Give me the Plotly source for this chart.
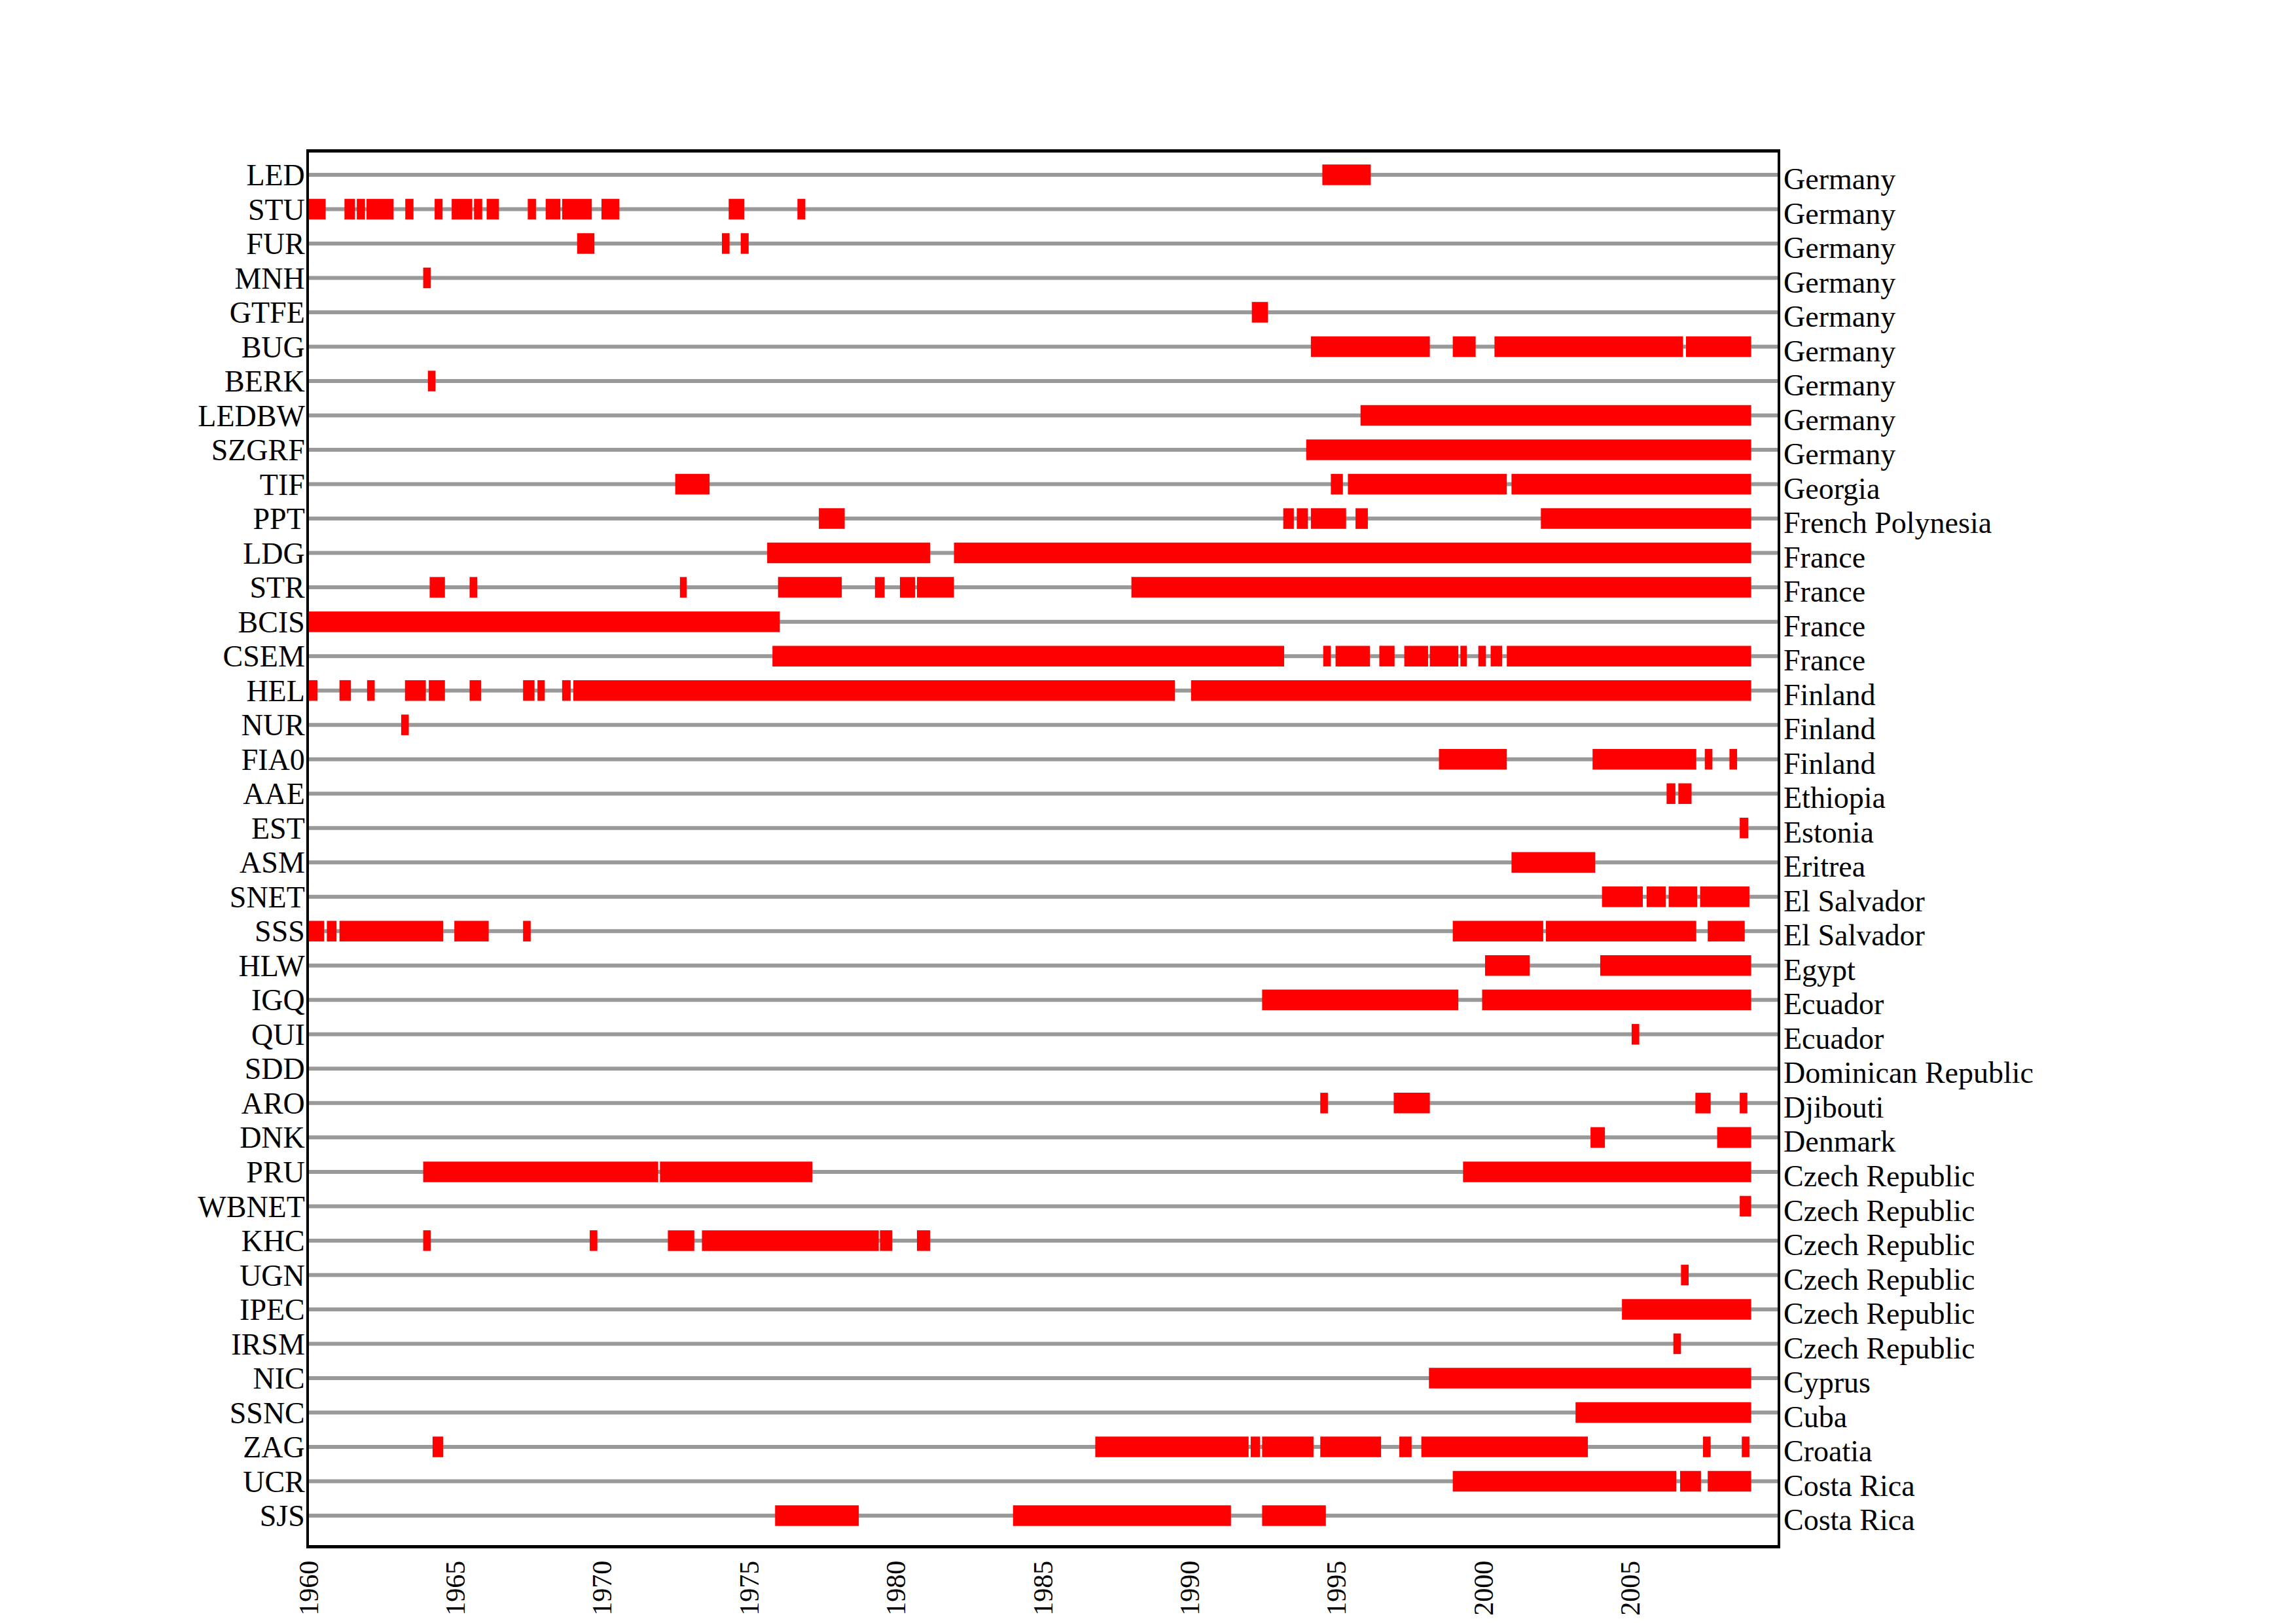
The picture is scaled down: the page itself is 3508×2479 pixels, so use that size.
import plotly.graph_objects as go

stations = ["LED", "STU", "FUR", "MNH", "GTFE", "BUG", "BERK", "LEDBW", "SZGRF", "TIF",
            "PPT", "LDG", "STR", "BCIS", "CSEM", "HEL", "NUR", "FIA0", "AAE", "EST",
            "ASM", "SNET", "SSS", "HLW", "IGQ", "QUI", "SDD", "ARO", "DNK", "PRU",
            "WBNET", "KHC", "UGN", "IPEC", "IRSM", "NIC", "SSNC", "ZAG", "UCR", "SJS"]

countries = ["Germany", "Germany", "Germany", "Germany", "Germany", "Germany", "Germany",
             "Germany", "Germany", "Georgia", "French Polynesia", "France", "France",
             "France", "France", "Finland", "Finland", "Finland", "Ethiopia", "Estonia",
             "Eritrea", "El Salvador", "El Salvador", "Egypt", "Ecuador", "Ecuador",
             "Dominican Republic", "Djibouti", "Denmark", "Czech Republic",
             "Czech Republic", "Czech Republic", "Czech Republic", "Czech Republic",
             "Czech Republic", "Cyprus", "Cuba", "Croatia", "Costa Rica", "Costa Rica"]

# operating periods (start year, end year), one list per station, in the order above
periods = [
    [(1994.5, 1996.15)],
    [(1960.0, 1960.57), (1961.21, 1961.57), (1961.63, 1961.91), (1961.96, 1962.88),
     (1963.28, 1963.56), (1964.28, 1964.55), (1964.86, 1965.56), (1965.62, 1965.9),
     (1966.05, 1966.47), (1967.45, 1967.73), (1968.06, 1968.56), (1968.62, 1969.63),
     (1969.96, 1970.57), (1974.29, 1974.82), (1976.63, 1976.9)],
    [(1969.13, 1969.72), (1974.06, 1974.32), (1974.7, 1974.97)],
    [(1963.89, 1964.15)],
    [(1992.1, 1992.65)],
    [(1994.11, 1998.16), (1998.94, 1999.72), (2000.36, 2006.78), (2006.88, 2009.1)],
    [(1964.05, 1964.31)],
    [(1995.8, 2009.1)],
    [(1993.95, 2009.1)],
    [(1972.47, 1973.64), (1994.79, 1995.2), (1995.37, 2000.78), (2000.94, 2009.1)],
    [(1977.36, 1978.24), (1993.17, 1993.53), (1993.63, 1994.01), (1994.11, 1995.31),
     (1995.63, 1996.05), (2001.94, 2009.1)],
    [(1975.6, 1981.15), (1981.96, 2009.1)],
    [(1964.11, 1964.63), (1965.47, 1965.73), (1972.63, 1972.86), (1975.97, 1978.14),
     (1979.27, 1979.6), (1980.12, 1980.64), (1980.7, 1981.96), (1988.0, 2009.1)],
    [(1960.0, 1976.03)],
    [(1975.78, 1993.2), (1994.53, 1994.79), (1994.95, 1996.12), (1996.44, 1996.96),
     (1997.29, 1998.1), (1998.16, 1999.13), (1999.2, 1999.42), (1999.81, 2000.07),
     (2000.23, 2000.62), (2000.78, 2009.1)],
    [(1960.0, 1960.29), (1961.04, 1961.43), (1961.98, 1962.24), (1963.27, 1963.98),
     (1964.08, 1964.63), (1965.47, 1965.86), (1967.29, 1967.68), (1967.78, 1968.03),
     (1968.62, 1968.91), (1969.0, 1989.48), (1990.03, 2009.1)],
    [(1963.14, 1963.4)],
    [(1998.47, 2000.78), (2003.7, 2007.23), (2007.52, 2007.78), (2008.36, 2008.62)],
    [(2006.22, 2006.52), (2006.62, 2007.07)],
    [(2008.71, 2009.0)],
    [(2000.94, 2003.79)],
    [(2004.02, 2005.41), (2005.54, 2006.19), (2006.29, 2007.26), (2007.36, 2009.04)],
    [(1960.0, 1960.52), (1960.61, 1960.94), (1961.04, 1964.57), (1964.95, 1966.12),
     (1967.29, 1967.55), (1998.94, 2002.02), (2002.11, 2007.23), (2007.62, 2008.88)],
    [(2000.04, 2001.56), (2003.96, 2009.1)],
    [(1992.45, 1999.13), (1999.94, 2009.1)],
    [(2005.03, 2005.29)],
    [],
    [(1994.43, 1994.69), (1996.93, 1998.16), (2007.2, 2007.72), (2008.71, 2008.97)],
    [(2003.63, 2004.12), (2007.94, 2009.1)],
    [(1963.89, 1971.89), (1971.95, 1977.14), (1999.29, 2009.1)],
    [(2008.71, 2009.1)],
    [(1963.89, 1964.15), (1969.56, 1969.82), (1972.22, 1973.12), (1973.38, 1979.4),
     (1979.44, 1979.86), (1980.7, 1981.15)],
    [(2006.71, 2006.97)],
    [(2004.7, 2009.1)],
    [(2006.45, 2006.71)],
    [(1998.13, 2009.1)],
    [(2003.12, 2009.1)],
    [(1964.21, 1964.57), (1986.77, 1991.99), (1992.06, 1992.38), (1992.45, 1994.2),
     (1994.43, 1996.5), (1997.12, 1997.54), (1997.87, 2003.54), (2007.46, 2007.72),
     (2008.78, 2009.04)],
    [(1998.94, 2006.55), (2006.68, 2007.39), (2007.62, 2009.1)],
    [(1975.87, 1978.72), (1983.97, 1991.39), (1992.45, 1994.62)],
]

year_ticks = [1960, 1965, 1970, 1975, 1980, 1985, 1990, 1995, 2000, 2005]
x_range = [1960, 2010]

n = len(stations)
row_pos = [n - 1 - i for i in range(n)]
y_range = [-0.856, n - 1 + 0.646]

FONT = "Liberation Serif, Times New Roman, serif"

fig = go.Figure()

# grey baseline for every station
lx, ly = [], []
for p in row_pos:
    lx += [x_range[0], x_range[1], None]
    ly += [p, p, None]
fig.add_trace(go.Scatter(x=lx, y=ly, mode="lines",
                         line=dict(color="#999999", width=6),
                         hoverinfo="skip", showlegend=False, yaxis="y"))

# red operating periods
by, bbase, blen = [], [], []
for p, segs in zip(row_pos, periods):
    for s, e in segs:
        by.append(p)
        bbase.append(s)
        blen.append(e - s)
fig.add_trace(go.Bar(x=blen, base=bbase, y=by, orientation="h", width=0.6,
                     marker=dict(color="#ff0000", line=dict(width=0)),
                     showlegend=False, yaxis="y2"))

# the page body adds an 8 px offset, so the figure is sized to fit inside it
fig.update_layout(
    width=3492, height=2463,
    margin=dict(l=464, r=784, t=225, b=111, autoexpand=False),
    paper_bgcolor="white", plot_bgcolor="white",
    barmode="overlay",
    font=dict(family=FONT, size=46, color="black"),
    xaxis=dict(range=x_range, tickvals=year_ticks, ticktext=[str(v) for v in year_ticks],
               tickangle=-90, ticks="", showgrid=False, zeroline=False, automargin=False,
               showline=True, mirror=True, linewidth=5, linecolor="black",
               tickfont=dict(family=FONT, size=42), ticklabelstandoff=2),
    yaxis=dict(range=y_range, tickvals=row_pos, ticktext=stations, ticks="",
               showgrid=False, zeroline=False, showline=True, mirror=True,
               linewidth=4, linecolor="black", automargin=False,
               tickfont=dict(family=FONT, size=46), ticklabelstandoff=-7),
    yaxis2=dict(range=y_range, tickvals=row_pos, ticktext=countries, ticks="",
                overlaying="y", side="right", showgrid=False, zeroline=False,
                showline=False, automargin=False, tickfont=dict(family=FONT, size=46),
                ticklabelstandoff=8, ticklabelshift=6),
)

fig.write_html("out.html")
